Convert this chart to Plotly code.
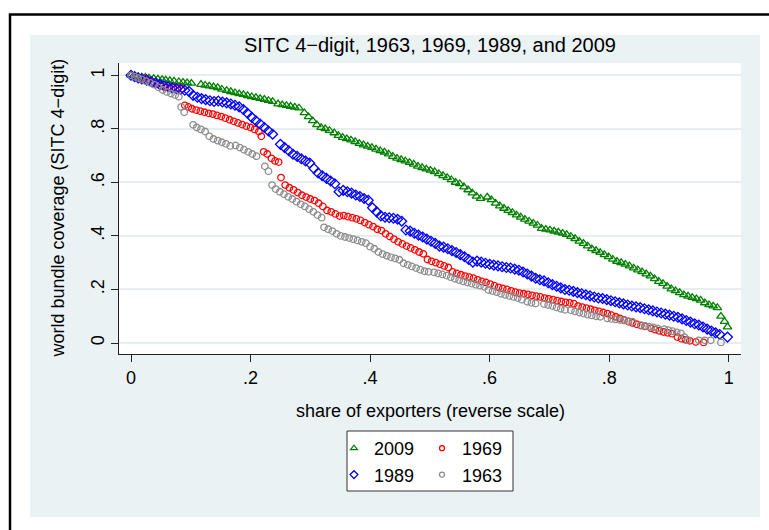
import plotly.graph_objects as go

# ---------------- data ----------------
pts_2009 = [
    (0.000, 1.000), (0.006, 0.997), (0.012, 0.995), (0.018, 0.993), (0.024, 0.992), (0.030, 0.990),
    (0.038, 0.988), (0.045, 0.986), (0.052, 0.984), (0.058, 0.982), (0.065, 0.980), (0.072, 0.978),
    (0.080, 0.976), (0.087, 0.974), (0.094, 0.972), (0.101, 0.970), (0.117, 0.966), (0.124, 0.963),
    (0.131, 0.960), (0.138, 0.957), (0.145, 0.954), (0.152, 0.948), (0.160, 0.943), (0.167, 0.939),
    (0.174, 0.935), (0.181, 0.931), (0.188, 0.928), (0.195, 0.924), (0.202, 0.920), (0.209, 0.917),
    (0.216, 0.913), (0.223, 0.910), (0.230, 0.906), (0.237, 0.902), (0.246, 0.893), (0.253, 0.890),
    (0.260, 0.887), (0.267, 0.884), (0.274, 0.881), (0.281, 0.878), (0.290, 0.860), (0.297, 0.845),
    (0.304, 0.830), (0.311, 0.815), (0.318, 0.805), (0.325, 0.800), (0.332, 0.794), (0.340, 0.785),
    (0.347, 0.775), (0.354, 0.768), (0.361, 0.763), (0.368, 0.758), (0.375, 0.752), (0.382, 0.745),
    (0.389, 0.740), (0.396, 0.735), (0.403, 0.730), (0.410, 0.724), (0.417, 0.718), (0.424, 0.713),
    (0.431, 0.706), (0.438, 0.697), (0.445, 0.690), (0.452, 0.685), (0.459, 0.680), (0.466, 0.674),
    (0.473, 0.668), (0.480, 0.660), (0.487, 0.655), (0.494, 0.650), (0.501, 0.645), (0.508, 0.640),
    (0.515, 0.632), (0.522, 0.625), (0.529, 0.618), (0.536, 0.610), (0.543, 0.600), (0.550, 0.595),
    (0.557, 0.583), (0.564, 0.572), (0.571, 0.560), (0.578, 0.548), (0.585, 0.540), (0.596, 0.545),
    (0.603, 0.535), (0.610, 0.522), (0.617, 0.512), (0.624, 0.503), (0.631, 0.495), (0.638, 0.487),
    (0.645, 0.478), (0.652, 0.470), (0.659, 0.462), (0.666, 0.455), (0.673, 0.447), (0.680, 0.440),
    (0.687, 0.428), (0.694, 0.425), (0.701, 0.422), (0.708, 0.418), (0.715, 0.414), (0.722, 0.410),
    (0.729, 0.405), (0.736, 0.398), (0.743, 0.390), (0.750, 0.380), (0.757, 0.372), (0.764, 0.362),
    (0.771, 0.352), (0.778, 0.345), (0.785, 0.338), (0.792, 0.330), (0.799, 0.322), (0.806, 0.313),
    (0.813, 0.305), (0.820, 0.300), (0.827, 0.294), (0.834, 0.288), (0.841, 0.280), (0.848, 0.273),
    (0.855, 0.266), (0.862, 0.258), (0.869, 0.250), (0.876, 0.240), (0.883, 0.230), (0.890, 0.222),
    (0.897, 0.212), (0.904, 0.202), (0.911, 0.195), (0.918, 0.188), (0.925, 0.180), (0.932, 0.175),
    (0.939, 0.170), (0.946, 0.165), (0.953, 0.160), (0.960, 0.150), (0.967, 0.143), (0.974, 0.138),
    (0.981, 0.132), (0.987, 0.100), (0.993, 0.080), (0.998, 0.060),
]

pts_1989 = [
    (0.000, 1.000), (0.006, 0.995), (0.012, 0.990), (0.018, 0.986), (0.026, 0.982), (0.034, 0.976),
    (0.041, 0.971), (0.048, 0.966), (0.055, 0.961), (0.062, 0.957), (0.069, 0.953), (0.076, 0.950),
    (0.083, 0.947), (0.090, 0.944), (0.097, 0.940), (0.104, 0.925), (0.111, 0.918), (0.118, 0.913),
    (0.125, 0.909), (0.132, 0.905), (0.139, 0.902), (0.146, 0.904), (0.153, 0.900), (0.160, 0.897),
    (0.167, 0.893), (0.174, 0.888), (0.181, 0.882), (0.188, 0.872), (0.195, 0.858), (0.202, 0.843),
    (0.209, 0.830), (0.216, 0.818), (0.223, 0.805), (0.230, 0.792), (0.237, 0.780), (0.250, 0.742),
    (0.257, 0.730), (0.264, 0.718), (0.271, 0.705), (0.278, 0.697), (0.285, 0.688), (0.292, 0.680),
    (0.299, 0.672), (0.306, 0.652), (0.313, 0.635), (0.320, 0.625), (0.327, 0.615), (0.334, 0.605),
    (0.341, 0.595), (0.348, 0.565), (0.355, 0.570), (0.362, 0.565), (0.369, 0.560), (0.376, 0.553),
    (0.383, 0.547), (0.390, 0.540), (0.397, 0.533), (0.404, 0.505), (0.411, 0.490), (0.418, 0.475),
    (0.425, 0.470), (0.432, 0.468), (0.439, 0.466), (0.446, 0.462), (0.453, 0.455), (0.460, 0.422),
    (0.467, 0.418), (0.474, 0.410), (0.481, 0.403), (0.488, 0.396), (0.495, 0.388), (0.502, 0.380),
    (0.509, 0.372), (0.516, 0.362), (0.523, 0.358), (0.530, 0.352), (0.537, 0.345), (0.544, 0.338),
    (0.551, 0.330), (0.558, 0.322), (0.565, 0.312), (0.572, 0.302), (0.579, 0.306), (0.586, 0.302),
    (0.593, 0.298), (0.600, 0.294), (0.607, 0.291), (0.614, 0.288), (0.621, 0.285), (0.628, 0.282),
    (0.635, 0.280), (0.642, 0.276), (0.649, 0.272), (0.656, 0.265), (0.663, 0.258), (0.670, 0.250),
    (0.677, 0.242), (0.684, 0.236), (0.691, 0.232), (0.698, 0.225), (0.705, 0.218), (0.712, 0.212),
    (0.719, 0.206), (0.726, 0.200), (0.733, 0.197), (0.740, 0.193), (0.747, 0.188), (0.754, 0.184),
    (0.761, 0.180), (0.768, 0.176), (0.775, 0.172), (0.782, 0.168), (0.789, 0.166), (0.796, 0.162),
    (0.803, 0.158), (0.810, 0.154), (0.817, 0.150), (0.824, 0.146), (0.831, 0.142), (0.838, 0.138),
    (0.845, 0.135), (0.852, 0.132), (0.859, 0.128), (0.866, 0.124), (0.873, 0.120), (0.880, 0.116),
    (0.887, 0.112), (0.894, 0.108), (0.901, 0.104), (0.908, 0.100), (0.915, 0.096), (0.922, 0.090),
    (0.929, 0.084), (0.936, 0.078), (0.943, 0.072), (0.950, 0.067), (0.957, 0.060), (0.964, 0.052),
    (0.971, 0.045), (0.978, 0.038), (0.985, 0.032), (0.998, 0.022),
]

pts_1969 = [
    (0.000, 1.000), (0.006, 0.996), (0.012, 0.992), (0.018, 0.990), (0.024, 0.988), (0.030, 0.982),
    (0.036, 0.972), (0.043, 0.966), (0.050, 0.960), (0.057, 0.955), (0.064, 0.953), (0.071, 0.955),
    (0.078, 0.952), (0.085, 0.950), (0.090, 0.888), (0.096, 0.882), (0.102, 0.875), (0.109, 0.870),
    (0.116, 0.866), (0.123, 0.862), (0.130, 0.858), (0.137, 0.855), (0.144, 0.850), (0.151, 0.846),
    (0.158, 0.840), (0.165, 0.834), (0.172, 0.828), (0.179, 0.822), (0.186, 0.816), (0.193, 0.810),
    (0.200, 0.805), (0.207, 0.798), (0.214, 0.790), (0.218, 0.772), (0.222, 0.714), (0.228, 0.706),
    (0.235, 0.690), (0.241, 0.680), (0.247, 0.676), (0.251, 0.618), (0.258, 0.590), (0.265, 0.580),
    (0.272, 0.572), (0.279, 0.562), (0.286, 0.552), (0.293, 0.545), (0.300, 0.538), (0.307, 0.532),
    (0.314, 0.522), (0.321, 0.510), (0.328, 0.495), (0.335, 0.490), (0.342, 0.482), (0.349, 0.474),
    (0.356, 0.476), (0.363, 0.472), (0.370, 0.468), (0.377, 0.464), (0.384, 0.458), (0.391, 0.450),
    (0.398, 0.442), (0.405, 0.435), (0.412, 0.425), (0.419, 0.420), (0.426, 0.408), (0.433, 0.398),
    (0.440, 0.388), (0.447, 0.378), (0.454, 0.370), (0.461, 0.362), (0.468, 0.355), (0.475, 0.348),
    (0.482, 0.340), (0.489, 0.333), (0.496, 0.312), (0.503, 0.305), (0.510, 0.300), (0.517, 0.294),
    (0.524, 0.288), (0.531, 0.282), (0.538, 0.266), (0.545, 0.260), (0.552, 0.255), (0.559, 0.250),
    (0.566, 0.246), (0.573, 0.242), (0.580, 0.236), (0.587, 0.230), (0.594, 0.226), (0.601, 0.220),
    (0.608, 0.214), (0.615, 0.208), (0.622, 0.204), (0.629, 0.200), (0.636, 0.195), (0.643, 0.190),
    (0.650, 0.186), (0.657, 0.184), (0.664, 0.182), (0.671, 0.178), (0.678, 0.175), (0.685, 0.172),
    (0.692, 0.168), (0.699, 0.165), (0.706, 0.162), (0.713, 0.158), (0.720, 0.155), (0.727, 0.152),
    (0.734, 0.150), (0.741, 0.147), (0.748, 0.138), (0.755, 0.134), (0.762, 0.130), (0.769, 0.126),
    (0.776, 0.122), (0.783, 0.118), (0.790, 0.114), (0.797, 0.110), (0.804, 0.104), (0.811, 0.098),
    (0.818, 0.092), (0.825, 0.086), (0.832, 0.080), (0.839, 0.075), (0.846, 0.070), (0.853, 0.065),
    (0.860, 0.062), (0.870, 0.055), (0.877, 0.050), (0.884, 0.045), (0.891, 0.041), (0.898, 0.038),
    (0.905, 0.035), (0.914, 0.022), (0.921, 0.016), (0.928, 0.012), (0.935, 0.008), (0.945, 0.004),
    (0.958, 0.002),
]

pts_1963 = [
    (0.000, 1.000), (0.006, 0.995), (0.012, 0.990), (0.018, 0.985), (0.025, 0.978), (0.032, 0.972),
    (0.039, 0.965), (0.046, 0.955), (0.053, 0.945), (0.060, 0.938), (0.067, 0.932), (0.074, 0.926),
    (0.080, 0.920), (0.084, 0.882), (0.089, 0.862), (0.104, 0.815), (0.110, 0.805), (0.117, 0.798),
    (0.124, 0.790), (0.131, 0.772), (0.138, 0.762), (0.145, 0.756), (0.152, 0.750), (0.159, 0.744),
    (0.166, 0.736), (0.175, 0.738), (0.182, 0.730), (0.189, 0.722), (0.196, 0.714), (0.203, 0.706),
    (0.210, 0.698), (0.224, 0.660), (0.230, 0.642), (0.236, 0.590), (0.242, 0.575), (0.249, 0.565),
    (0.256, 0.556), (0.263, 0.546), (0.270, 0.538), (0.277, 0.528), (0.284, 0.518), (0.291, 0.510),
    (0.298, 0.500), (0.305, 0.490), (0.312, 0.478), (0.319, 0.468), (0.323, 0.432), (0.330, 0.425),
    (0.337, 0.418), (0.344, 0.408), (0.351, 0.400), (0.358, 0.396), (0.365, 0.392), (0.372, 0.388),
    (0.379, 0.383), (0.386, 0.378), (0.393, 0.373), (0.400, 0.360), (0.407, 0.352), (0.414, 0.340),
    (0.421, 0.332), (0.428, 0.326), (0.435, 0.320), (0.442, 0.316), (0.449, 0.311), (0.456, 0.298),
    (0.463, 0.292), (0.470, 0.286), (0.477, 0.280), (0.484, 0.274), (0.491, 0.268), (0.498, 0.266),
    (0.507, 0.264), (0.514, 0.260), (0.521, 0.256), (0.528, 0.252), (0.535, 0.246), (0.542, 0.240),
    (0.549, 0.235), (0.556, 0.230), (0.563, 0.226), (0.570, 0.222), (0.577, 0.218), (0.584, 0.214),
    (0.591, 0.210), (0.598, 0.198), (0.605, 0.194), (0.612, 0.190), (0.619, 0.184), (0.626, 0.180),
    (0.633, 0.176), (0.640, 0.172), (0.647, 0.168), (0.654, 0.162), (0.663, 0.154), (0.670, 0.150),
    (0.677, 0.148), (0.691, 0.146), (0.698, 0.142), (0.705, 0.138), (0.712, 0.133), (0.719, 0.128),
    (0.726, 0.124), (0.736, 0.122), (0.743, 0.118), (0.750, 0.114), (0.757, 0.110), (0.764, 0.106),
    (0.771, 0.103), (0.778, 0.100), (0.785, 0.098), (0.797, 0.092), (0.804, 0.090), (0.811, 0.088),
    (0.818, 0.086), (0.825, 0.084), (0.832, 0.082), (0.839, 0.080), (0.853, 0.067), (0.860, 0.064),
    (0.867, 0.061), (0.874, 0.058), (0.881, 0.055), (0.892, 0.052), (0.899, 0.048), (0.906, 0.044),
    (0.913, 0.040), (0.920, 0.036), (0.926, 0.022), (0.931, 0.012), (0.950, 0.010), (0.960, 0.010),
    (0.970, 0.010), (0.987, 0.002),
]

x_ticks = [0, 0.2, 0.4, 0.6, 0.8, 1]
x_tick_labels = ["0", ".2", ".4", ".6", ".8", "1"]
y_ticks = [0, 0.2, 0.4, 0.6, 0.8, 1]
y_tick_labels = ["0", ".2", ".4", ".6", ".8", "1"]

title_text = "SITC 4\u2212digit, 1963, 1969, 1989, and 2009"
x_title = "share of exporters (reverse scale)"
y_title = "world bundle coverage (SITC 4\u2212digit)"

# ---------------- figure ----------------
FONT = "Liberation Sans, Arial, Helvetica, sans-serif"
FS = 18
W, H = 769, 530
L, R, T, B = 119, 28, 63, 176
PW, PH = W - L - R, H - T - B


def px(xp):
    return (xp - L) / PW


def py(yp):
    return (H - B - yp) / PH


series = [
    ("2009", pts_2009, "triangle-up-open", "#008000", 7.5, "legend"),
    ("1969", pts_1969, "circle-open", "#ff0000", 6.5, "legend2"),
    ("1989", pts_1989, "diamond-open", "#0000ff", 7.5, "legend"),
    ("1963", pts_1963, "circle-open", "#8c8c8c", 6.5, "legend2"),
]

fig = go.Figure()
for name, pts, sym, col, size, leg in series:
    fig.add_trace(go.Scatter(
        x=[p[0] for p in pts], y=[p[1] for p in pts],
        mode="markers", name=name, showlegend=False, legendgroup=name,
        marker=dict(symbol=sym, color=col, size=size, line=dict(color=col, width=1.3)),
    ))
# legend keys (smaller symbols, as in the reference legend)
for name, pts, sym, col, size, leg in series:
    fig.add_trace(go.Scatter(
        x=[None], y=[None], mode="markers", name=name, legend=leg, legendgroup=name,
        marker=dict(symbol=sym, color=col, size=size - 1.5, line=dict(color=col, width=1.3)),
    ))

shapes = [
    # outer frame
    dict(type="rect", xref="paper", yref="paper", x0=px(10), x1=px(800), y0=py(580), y1=py(14.5),
         line=dict(color="black", width=2.5), fillcolor="rgba(0,0,0,0)", layer="below"),
    # graph region
    dict(type="rect", xref="paper", yref="paper", x0=px(30), x1=px(760), y0=py(517), y1=py(35),
         line=dict(width=0), fillcolor="#EAF2F3", layer="below"),
    # plot region
    dict(type="rect", xref="x domain", yref="y domain", x0=0, x1=1, y0=0, y1=1,
         line=dict(width=0), fillcolor="white", layer="below"),
    # legend box
    dict(type="rect", xref="paper", yref="paper", x0=px(347), x1=px(513), y0=py(491), y1=py(431),
         line=dict(color="#333333", width=1), fillcolor="white", layer="below"),
]

axis_common = dict(
    showline=True, linecolor="#222222", linewidth=1.2, mirror=False,
    ticks="outside", ticklen=7, tickwidth=1.2, tickcolor="#222222",
    tickfont=dict(family=FONT, size=FS, color="black"),
    zeroline=False,
)

fig.update_layout(
    width=W, height=H,
    margin=dict(l=L, r=R, t=T, b=B, autoexpand=False),
    paper_bgcolor="white", plot_bgcolor="rgba(0,0,0,0)",
    font=dict(family=FONT, size=FS, color="black"),
    title=dict(text=title_text, x=px(430), xref="paper", xanchor="center",
               y=1 - 45 / H, yref="container", yanchor="middle",
               font=dict(family=FONT, size=20, color="black")),
    xaxis=dict(range=[(119 - 131) / 597.7, (741 - 131) / 597.7],
               tickvals=x_ticks, ticktext=x_tick_labels, showgrid=False, **axis_common),
    yaxis=dict(range=[(343 - 354) / 267.7, (343 - 63) / 267.7],
               tickvals=y_ticks, ticktext=y_tick_labels, tickangle=-90,
               showgrid=True, gridcolor="#E6EEF0", gridwidth=1.5, **axis_common),
    shapes=shapes,
    annotations=[
        dict(text=x_title, xref="paper", yref="paper", x=px(430), y=py(411),
             xanchor="center", yanchor="middle", showarrow=False,
             font=dict(family=FONT, size=FS, color="black")),
        dict(text=y_title, xref="paper", yref="paper", x=px(57), y=0.5,
             xanchor="center", yanchor="middle", textangle=-90, showarrow=False,
             font=dict(family=FONT, size=FS, color="black")),
    ],
    legend=dict(x=px(334), y=py(430), xanchor="left", yanchor="top",
                bgcolor="rgba(0,0,0,0)", borderwidth=0, tracegroupgap=0,
                font=dict(family=FONT, size=FS, color="black")),
    legend2=dict(x=px(422), y=py(430), xanchor="left", yanchor="top",
                 bgcolor="rgba(0,0,0,0)", borderwidth=0, tracegroupgap=0,
                 font=dict(family=FONT, size=FS, color="black")),
    showlegend=True,
)

fig.write_html("out.html")
